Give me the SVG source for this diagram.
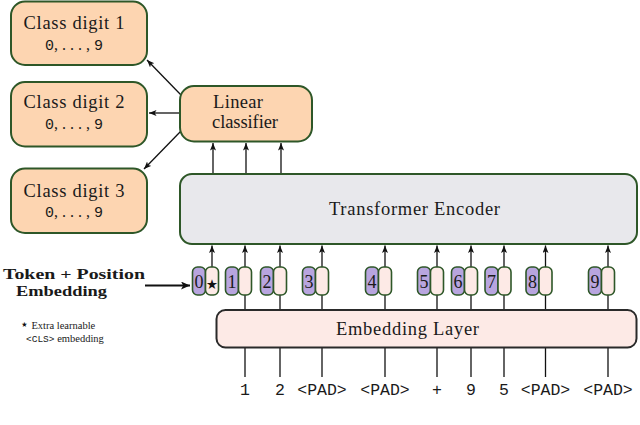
<svg xmlns="http://www.w3.org/2000/svg" width="640" height="425" viewBox="0 0 640 425">
<style>
.serif{font-family:"Liberation Serif","DejaVu Serif",serif;fill:#1a1a1a}
.mono{font-family:"Liberation Mono","DejaVu Sans Mono",monospace;fill:#1a1a1a}
.peach{fill:#fdd5b1;stroke:#2e5728;stroke-width:2}
.enc{fill:#e8e8ec;stroke:#2e5728;stroke-width:2}
.emb{fill:#fdeae6;stroke:#2a2a2a;stroke-width:2}
.pur{fill:#b8a5df;stroke:#2e5728;stroke-width:1.6}
.pink{fill:#fdeae6;stroke:#2e5728;stroke-width:1.6}
.ln{stroke:#111;stroke-width:1.3;fill:none}
.dig{font-size:18px;text-anchor:middle}
.tok{font-size:16.5px;text-anchor:middle}
.star{font-family:"DejaVu Sans",sans-serif;fill:#111}
</style>
<defs>
<marker id="ah" markerUnits="userSpaceOnUse" markerWidth="9" markerHeight="7" refX="7.5" refY="3" orient="auto">
<path d="M0,0 L7.5,3 L0,6 L1.8,3 z" fill="#111"/>
</marker>
<marker id="ahb" markerUnits="userSpaceOnUse" markerWidth="11" markerHeight="9" refX="9" refY="4" orient="auto">
<path d="M0,0 L9,4 L0,8 L2.2,4 z" fill="#111"/>
</marker>
</defs>
<rect width="640" height="425" fill="#fff"/>

<g id="connectors">
<line class="ln" x1="181" y1="95" x2="147" y2="60" marker-end="url(#ah)"/>
<line class="ln" x1="180" y1="113" x2="149" y2="113" marker-end="url(#ah)"/>
<line class="ln" x1="181" y1="131" x2="144" y2="169" marker-end="url(#ah)"/>
<line class="ln" x1="213" y1="173" x2="213" y2="143" marker-end="url(#ah)"/>
<line class="ln" x1="246" y1="173" x2="246" y2="143" marker-end="url(#ah)"/>
<line class="ln" x1="281" y1="173" x2="281" y2="143" marker-end="url(#ah)"/>
<g id="up-arrows">
<line class="ln" x1="212" y1="267" x2="212" y2="245.5" marker-end="url(#ah)"/>
<line class="ln" x1="245" y1="267" x2="245" y2="245.5" marker-end="url(#ah)"/>
<line class="ln" x1="280" y1="267" x2="280" y2="245.5" marker-end="url(#ah)"/>
<line class="ln" x1="322" y1="267" x2="322" y2="245.5" marker-end="url(#ah)"/>
<line class="ln" x1="385" y1="267" x2="385" y2="245.5" marker-end="url(#ah)"/>
<line class="ln" x1="437" y1="267" x2="437" y2="245.5" marker-end="url(#ah)"/>
<line class="ln" x1="471" y1="267" x2="471" y2="245.5" marker-end="url(#ah)"/>
<line class="ln" x1="504" y1="267" x2="504" y2="245.5" marker-end="url(#ah)"/>
<line class="ln" x1="545.5" y1="267" x2="545.5" y2="245.5" marker-end="url(#ah)"/>
<line class="ln" x1="608" y1="267" x2="608" y2="245.5" marker-end="url(#ah)"/>
</g>
<g id="input-lines">
<line class="ln" x1="245" y1="377" x2="245" y2="295"/>
<line class="ln" x1="280" y1="377" x2="280" y2="295"/>
<line class="ln" x1="322" y1="377" x2="322" y2="295"/>
<line class="ln" x1="385" y1="377" x2="385" y2="295"/>
<line class="ln" x1="437" y1="377" x2="437" y2="295"/>
<line class="ln" x1="471" y1="377" x2="471" y2="295"/>
<line class="ln" x1="504" y1="377" x2="504" y2="295"/>
<line class="ln" x1="545.5" y1="377" x2="545.5" y2="295"/>
<line class="ln" x1="608" y1="377" x2="608" y2="295"/>
</g>
<line x1="145" y1="285.5" x2="190" y2="285.5" stroke="#111" stroke-width="1.8" marker-end="url(#ahb)"/>
</g>

<g id="class1">
<rect class="peach" x="11" y="1.5" width="136" height="63.5" rx="14"/>
<text class="serif" x="74" y="29" font-size="18.5" text-anchor="middle" textLength="101">Class digit 1</text>
<text class="serif" x="74" y="50" font-size="16" text-anchor="middle"><tspan class="mono" font-size="15">0</tspan>, . . . , <tspan class="mono" font-size="15">9</tspan></text>
</g>
<g id="class2">
<rect class="peach" x="11" y="82" width="136" height="64.5" rx="14"/>
<text class="serif" x="74" y="108" font-size="18.5" text-anchor="middle" textLength="101">Class digit 2</text>
<text class="serif" x="74" y="129" font-size="16" text-anchor="middle"><tspan class="mono" font-size="15">0</tspan>, . . . , <tspan class="mono" font-size="15">9</tspan></text>
</g>
<g id="class3">
<rect class="peach" x="11" y="168.5" width="136" height="64.5" rx="14"/>
<text class="serif" x="74" y="197" font-size="18.5" text-anchor="middle" textLength="101">Class digit 3</text>
<text class="serif" x="74" y="217" font-size="16" text-anchor="middle"><tspan class="mono" font-size="15">0</tspan>, . . . , <tspan class="mono" font-size="15">9</tspan></text>
</g>
<g id="linear">
<rect class="peach" x="180" y="86" width="132" height="55.5" rx="14"/>
<text class="serif" x="238" y="108" font-size="18.5" text-anchor="middle" textLength="50">Linear</text>
<text class="serif" x="245" y="128" font-size="18.5" text-anchor="middle" textLength="66">classifier</text>
</g>
<g id="transformer">
<rect class="enc" x="180" y="174" width="457" height="70" rx="12"/>
<text class="serif" x="414.5" y="215" font-size="18.5" text-anchor="middle" textLength="171">Transformer Encoder</text>
</g>

<g id="embeddings">
<g id="e0"><rect class="pur" x="192.5" y="267" width="13" height="28" rx="5"/><rect class="pink" x="205.5" y="267" width="13" height="28" rx="5"/><text class="serif dig" x="199" y="287.5">0</text><text class="star" x="212" y="293" font-size="27" text-anchor="middle">⋆</text></g>
<g id="e1"><rect class="pur" x="225.5" y="267" width="13" height="28" rx="5"/><rect class="pink" x="238.5" y="267" width="13" height="28" rx="5"/><text class="serif dig" x="232" y="287.5">1</text></g>
<g id="e2"><rect class="pur" x="260.5" y="267" width="13" height="28" rx="5"/><rect class="pink" x="273.5" y="267" width="13" height="28" rx="5"/><text class="serif dig" x="267" y="287.5">2</text></g>
<g id="e3"><rect class="pur" x="302.5" y="267" width="13" height="28" rx="5"/><rect class="pink" x="315.5" y="267" width="13" height="28" rx="5"/><text class="serif dig" x="309" y="287.5">3</text></g>
<g id="e4"><rect class="pur" x="365.5" y="267" width="13" height="28" rx="5"/><rect class="pink" x="378.5" y="267" width="13" height="28" rx="5"/><text class="serif dig" x="372" y="287.5">4</text></g>
<g id="e5"><rect class="pur" x="417.5" y="267" width="13" height="28" rx="5"/><rect class="pink" x="430.5" y="267" width="13" height="28" rx="5"/><text class="serif dig" x="424" y="287.5">5</text></g>
<g id="e6"><rect class="pur" x="451.5" y="267" width="13" height="28" rx="5"/><rect class="pink" x="464.5" y="267" width="13" height="28" rx="5"/><text class="serif dig" x="458" y="287.5">6</text></g>
<g id="e7"><rect class="pur" x="485" y="267" width="13" height="28" rx="5"/><rect class="pink" x="498" y="267" width="13" height="28" rx="5"/><text class="serif dig" x="491.5" y="287.5">7</text></g>
<g id="e8"><rect class="pur" x="526" y="267" width="13" height="28" rx="5"/><rect class="pink" x="539" y="267" width="13" height="28" rx="5"/><text class="serif dig" x="532.5" y="287.5">8</text></g>
<g id="e9"><rect class="pur" x="588.5" y="267" width="13" height="28" rx="5"/><rect class="pink" x="601.5" y="267" width="13" height="28" rx="5"/><text class="serif dig" x="595" y="287.5">9</text></g>
</g>

<g id="embedding-layer">
<rect class="emb" x="216.5" y="310" width="420" height="37.5" rx="9"/>
<text class="serif" x="407.5" y="335" font-size="18.5" text-anchor="middle" textLength="143">Embedding Layer</text>
</g>

<g id="token-label">
<text class="serif" x="3" y="279" font-size="15.5" font-weight="bold" textLength="142" lengthAdjust="spacingAndGlyphs">Token + Position</text>
<text class="serif" x="16" y="296" font-size="15.5" font-weight="bold" textLength="91" lengthAdjust="spacingAndGlyphs">Embedding</text>
</g>
<g id="cls-note">
<text class="serif" x="20" y="329" font-size="10.5"><tspan class="star" font-size="14">⋆</tspan> Extra learnable</text>
<text class="serif" x="26" y="341.5" font-size="10.5"><tspan class="mono" font-size="9.5">&lt;CLS&gt;</tspan> embedding</text>
</g>

<g id="inputs">
<text class="mono tok" x="245" y="395">1</text>
<text class="mono tok" x="280" y="395">2</text>
<text class="mono tok" x="322" y="395">&lt;PAD&gt;</text>
<text class="mono tok" x="385" y="395">&lt;PAD&gt;</text>
<text class="mono tok" x="437" y="395">+</text>
<text class="mono tok" x="471" y="395">9</text>
<text class="mono tok" x="504" y="395">5</text>
<text class="mono tok" x="545.5" y="395">&lt;PAD&gt;</text>
<text class="mono tok" x="608" y="395">&lt;PAD&gt;</text>
</g>
</svg>
